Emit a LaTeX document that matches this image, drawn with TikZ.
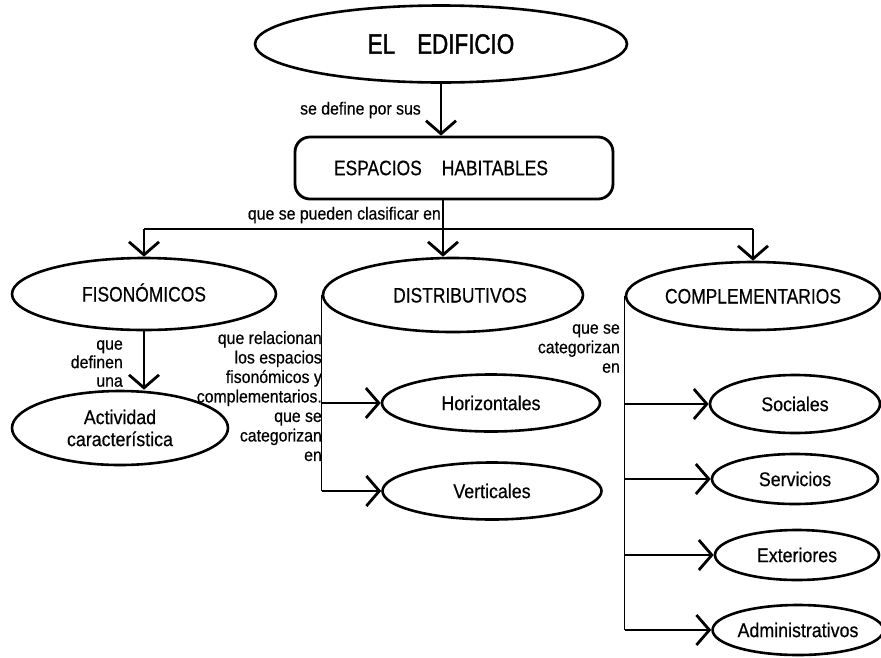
\documentclass[tikz,border=0pt]{standalone}
\usepackage{fontspec}
\setmainfont{Liberation Sans}[FakeStretch=0.9,FakeBold=0.5]
\newfontfamily\capsfont{Liberation Sans}[FakeStretch=0.83,FakeBold=0.5]
\newfontfamily\titlefont{Liberation Sans}[FakeStretch=0.8,FakeBold=1.4]
\usetikzlibrary{shapes.geometric,arrows.meta}

\tikzset{
  oval/.style={ellipse, draw, line width=2.6pt, inner sep=0pt},
  capsoval/.style={oval, font=\capsfont\fontsize{21}{23}\selectfont,
    text height=15pt, text depth=0pt},
  leafoval/.style={oval, font=\fontsize{19.8}{22}\selectfont},
  habbox/.style={rectangle, draw, line width=2.8pt, rounded corners=15pt,
    inner sep=0pt, font=\capsfont\fontsize{21}{23}\selectfont},
  conn/.style={line width=1.4pt},
  arr/.style={conn, -{Straight Barb[length=13pt,width=30pt,line width=2.8pt]}},
  lbl/.style={inner sep=0pt, font=\fontsize{17.6}{19.5}\selectfont, align=right},
}

\begin{document}
\begin{tikzpicture}[x=1pt,y=-1pt]
\useasboundingbox (0,0) rectangle (881,657);

% main nodes
\node[oval, minimum width=372pt, minimum height=77pt,
      font=\titlefont\fontsize{28}{30}\selectfont] (edif) at (441,44)
      {EL\hspace{22pt}EDIFICIO};
\node[habbox, minimum width=318pt, minimum height=62pt] (esp) at (454,168)
      {\hspace*{-26pt}ESPACIOS\hspace{20pt}HABITABLES};

\node[capsoval, minimum width=264pt, minimum height=72pt] (fis) at (144,294) {FISONÓMICOS};
\node[capsoval, minimum width=260pt, minimum height=74pt] (dis) at (453,295) {\hspace*{14pt}DISTRIBUTIVOS};
\node[capsoval, minimum width=254pt, minimum height=68pt] (com) at (753,296) {COMPLEMENTARIOS};

\node[leafoval, minimum width=216pt, minimum height=74pt, align=center] (act) at (120,428)
      {Actividad\\característica};
\node[leafoval, minimum width=218pt, minimum height=57pt] (hor) at (491,403) {Horizontales};
\node[leafoval, minimum width=219pt, minimum height=57pt] (ver) at (492,491) {Verticales};

\node[leafoval, minimum width=170pt, minimum height=58pt] (soc) at (795,404) {Sociales};
\node[leafoval, minimum width=166pt, minimum height=50pt] (ser) at (795,479) {Servicios};
\node[leafoval, minimum width=164pt, minimum height=50pt] (ext) at (797,555) {Exteriores};
\node[leafoval, minimum width=166pt, minimum height=50pt] (adm) at (798,630) {Administrativos};

% edificio -> espacios
\draw[arr] (edif.south) -- (edif.south |- esp.north);

% espacios -> three classes
\coordinate (split) at (443,229);
\draw[conn] (esp.south -| split) -- (split);
\draw[conn] (fis.north |- split) -- (com.north |- split);
\draw[arr] (fis.north |- split) -- (fis.north);
\draw[arr] (split) -- (split |- dis.north);
\draw[arr] (com.north |- split) -- (com.north);

% fisonomicos -> actividad
\draw[arr] (fis.south) -- (fis.south |- act.north);

% distributivos -> subtypes
\draw[conn] (dis.west) -- (dis.west |- ver.west);
\draw[arr] (dis.west |- hor.west) -- (hor.west);
\draw[arr] (dis.west |- ver.west) -- (ver.west);

% complementarios -> subtypes
\draw[conn] (com.west) -- (com.west |- adm.west);
\draw[arr] (com.west |- soc.west) -- (soc.west);
\draw[arr] (com.west |- ser.west) -- (ser.west);
\draw[arr] (com.west |- ext.west) -- (ext.west);
\draw[arr] (com.west |- adm.west) -- (adm.west);

% connector labels
\node[lbl, anchor=east] (l1) at (421,110) {se define por sus};
\node[lbl, anchor=east] (l2) at (441,215) {que se pueden clasificar en};
\node[lbl, anchor=north east, font=\fontsize{17.6}{18.5}\selectfont] (l3) at (123,340) {que\\definen\\una};
\node[lbl, anchor=north east] (l4) at (322,331) {que relacionan\\los espacios\\fisonómicos y\\complementarios.\\que se\\categorizan\\en};
\node[lbl, anchor=north east] (l5) at (620,324) {que se\\categorizan\\en};
\end{tikzpicture}
\end{document}
